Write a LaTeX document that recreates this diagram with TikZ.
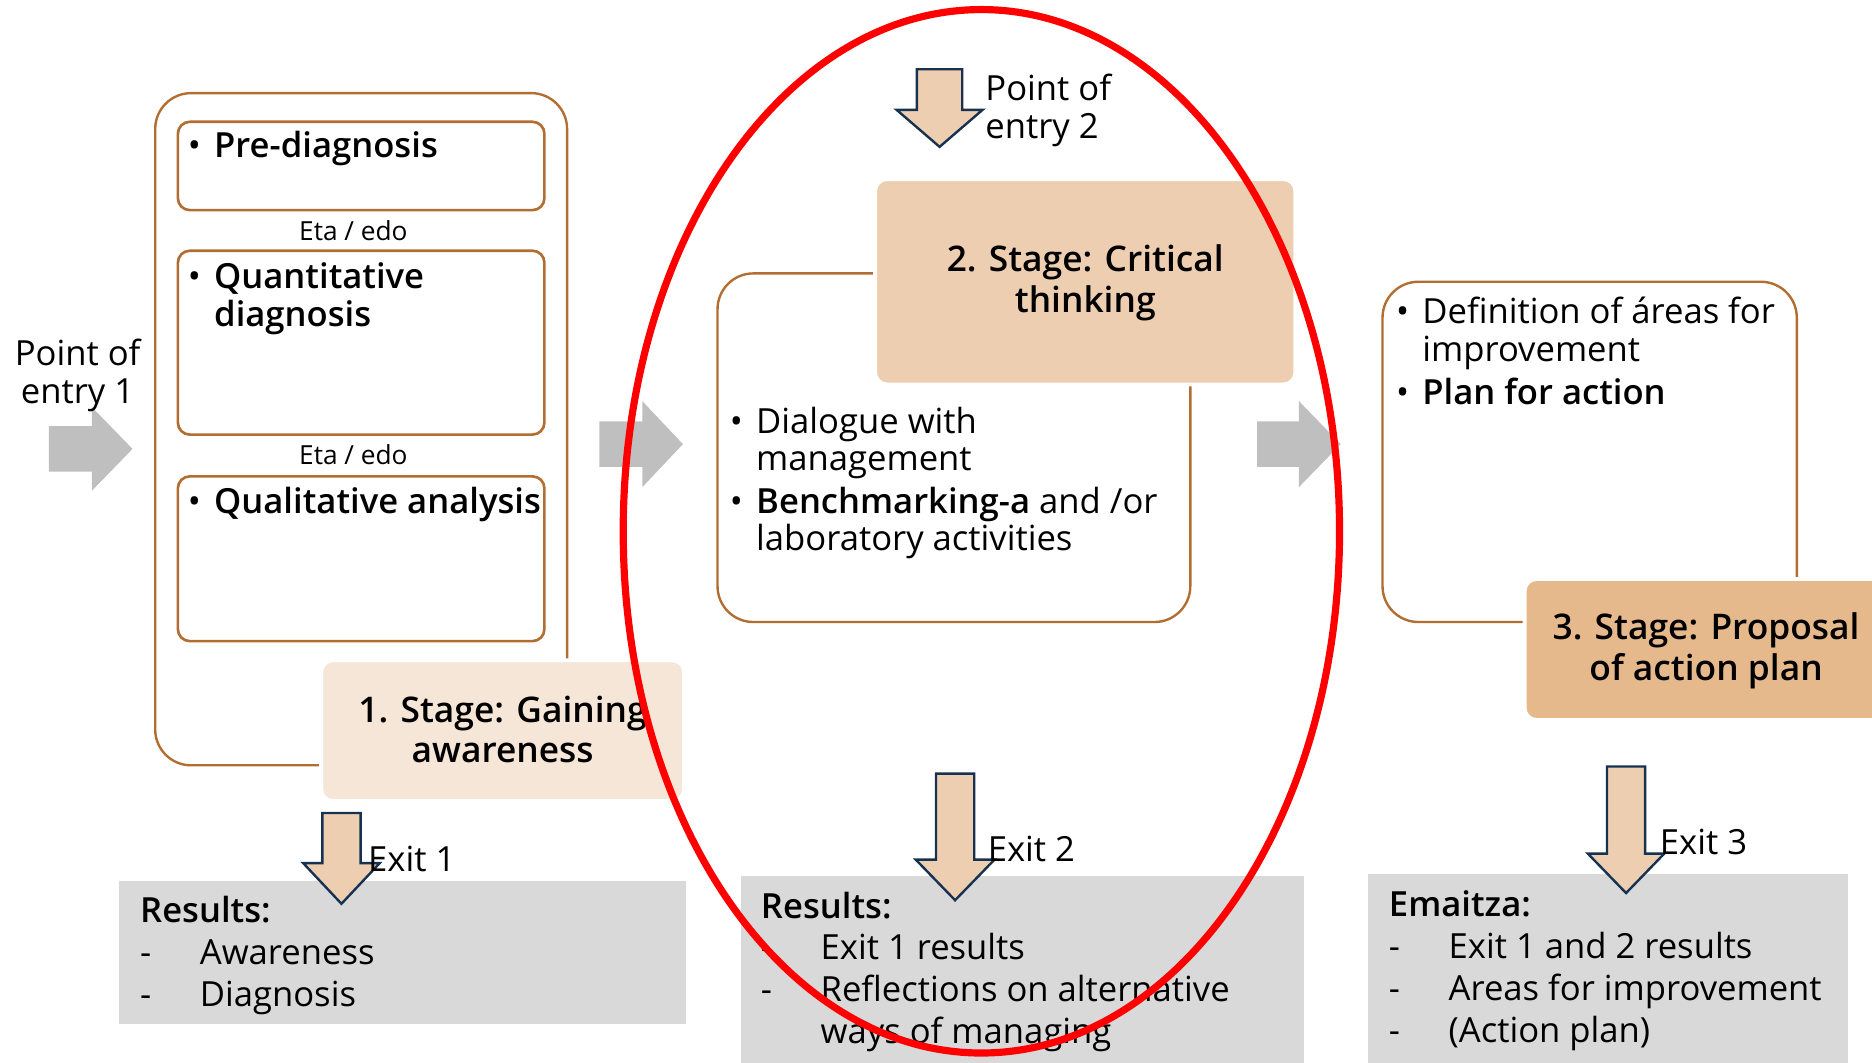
\documentclass[tikz,border=0pt]{standalone}
\usepackage{fontspec}
% prefer the semibold cut of Open Sans for the emphasised words
\IfFontExistsTF{Open Sans SemiBold}{%
  \setmainfont{Open Sans}[BoldFont={Open Sans SemiBold}]}{%
  \IfFontExistsTF{Open Sans Semibold}{%
    \setmainfont{Open Sans}[BoldFont={Open Sans Semibold}]}{%
    \setmainfont{Open Sans}}}
\definecolor{brownline}{RGB}{178,110,48}
\definecolor{stageA}{RGB}{246,230,216}
\definecolor{stageB}{RGB}{238,206,176}
\definecolor{stageC}{RGB}{230,185,140}
\definecolor{arrowfill}{RGB}{237,206,176}
\definecolor{arrowline}{RGB}{22,50,80}
\definecolor{flowgray}{RGB}{191,191,191}
\definecolor{resgray}{RGB}{217,217,217}
% down-pointing block arrow: centre x, top y, head base y, tip y, shaft half width, head half width
\newcommand\downblock[6]{%
  \filldraw[exitarrow] (#1-#5,#2) -- (#1+#5,#2) -- (#1+#5,#3) -- (#1+#6,#3)
    -- (#1,#4) -- (#1-#6,#3) -- (#1-#5,#3) -- cycle;}
% right-pointing block arrow: left x, head base x, tip x, centre y, shaft half height, head half height
\newcommand\rightblock[6]{%
  \fill[flowgray] (#1,#4-#5) -- (#2,#4-#5) -- (#2,#4-#6) -- (#3,#4)
    -- (#2,#4+#6) -- (#2,#4+#5) -- (#1,#4+#5) -- cycle;}
\begin{document}
\begin{tikzpicture}[x=0.5pt,y=-0.5pt,
  outline/.style={draw=brownline, line width=1pt, rounded corners=15pt, fill=white},
  innerbox/.style={draw=brownline, line width=1.1pt, rounded corners=5pt, fill=white},
  stagebox/.style={draw=white, line width=1.6pt, rounded corners=5pt},
  resbox/.style={fill=resgray},
  exitarrow/.style={fill=arrowfill, draw=arrowline, line width=1pt, line join=miter},
  body/.style={font=\fontsize{14.5}{15.75}\selectfont, inner sep=0pt, anchor=base west, align=left},
  small/.style={font=\fontsize{11}{13}\selectfont, inner sep=0pt},
  title/.style={font=\fontsize{14.8}{17}\selectfont\bfseries, inner sep=0pt, align=center},
  result/.style={font=\fontsize{14.5}{17.5}\selectfont, inner sep=0pt, anchor=base west},
  ring/.style={draw=red, line width=3pt}
]
\useasboundingbox (0,0) rectangle (1568,890);
\clip (0,0) rectangle (1568,890);

% flow arrows between the stages
\rightblock{41}{77}{111}{376}{19}{35}
\rightblock{502}{538}{572}{372}{19}{36}
\rightblock{1053}{1088}{1123}{372}{19}{36}

% stage 1
\draw[outline] (130,78) rectangle (475,641);
\draw[innerbox] (149,102) rectangle (456,176);
\draw[innerbox] (149,210) rectangle (456,364);
\draw[innerbox] (149,399) rectangle (456,537);
\filldraw[stagebox, fill=stageA] (269,553) rectangle (573,671);

% stage 2
\draw[outline] (601,229) rectangle (997,521);
\filldraw[stagebox, fill=stageB] (733,150) rectangle (1085,322);

% stage 3
\draw[outline] (1158,236) rectangle (1505,521);
\filldraw[stagebox, fill=stageC] (1277,485) rectangle (1600,603);

% result panels
\fill[resbox] (100,738) rectangle (575,858);
\fill[resbox] (621,734) rectangle (1092,900);
\fill[resbox] (1146,732) rectangle (1548,900);

% entry and exit arrows
\downblock{787}{58}{92}{123}{19}{36}
\downblock{286}{681}{723}{757}{16}{32}
\downblock{800}{648}{720}{754}{16}{33}
\downblock{1362}{642}{715}{748}{16}{32}

% texts (multi-line nodes sit on the baseline of their last line)
\node[body, align=center, anchor=base] (entry1) at (65,338) {Point of\\entry 1};
\node[body] (entry2) at (825,116) {Point of\\entry 2};

\node[body] (pre) at (157,132) {\begin{tabular}[t]{@{}p{11pt}@{}l@{}}•&\textbf{Pre-diagnosis}\end{tabular}};
\node[small] (or1) at (296,193) {Eta / edo};
\node[body] (quant) at (157,242) {\begin{tabular}[t]{@{}p{11pt}@{}l@{}}•&\textbf{Quantitative}\\&\textbf{diagnosis}\end{tabular}};
\node[small] (or2) at (296,381) {Eta / edo};
\node[body] (qual) at (157,430) {\begin{tabular}[t]{@{}p{11pt}@{}l@{}}•&\textbf{Qualitative analysis}\end{tabular}};
\node[title] (s1) at (421,611) {1. Stage: Gaining\\awareness};

\node[title] (s2) at (909,237) {2. Stage: Critical\\thinking};
\node[body] (crit) at (611,363) {\begin{tabular}[t]{@{}p{11pt}@{}l@{}}•&Dialogue with\\&management\\[2pt]•&\textbf{Benchmarking-a} and /or\\&laboratory activities\end{tabular}};

\node[body] (plan) at (1169,271) {\begin{tabular}[t]{@{}p{11pt}@{}l@{}}•&Definition of áreas for\\&improvement\\[2.5pt]•&\textbf{Plan for action}\end{tabular}};
\node[title] (s3) at (1429,545) {3. Stage: Proposal\\of action plan};

\node[result] (ex1) at (308,730) {Exit 1};
\node[result] (ex2) at (827,722) {Exit 2};
\node[result] (ex3) at (1390,716) {Exit 3};

\node[result] (r1) at (117,773) {\begin{tabular}[t]{@{}p{25pt}@{}l@{}}\multicolumn{2}{@{}l@{}}{\textbf{Results:}}\\-&Awareness\\-&Diagnosis\end{tabular}};
\node[result] (r2) at (637,769) {\begin{tabular}[t]{@{}p{25pt}@{}l@{}}\multicolumn{2}{@{}l@{}}{\textbf{Results:}}\\-&Exit 1 results\\-&Reflections on alternative\\&ways of managing\end{tabular}};
\node[result] (r3) at (1163,768) {\begin{tabular}[t]{@{}p{25pt}@{}l@{}}\multicolumn{2}{@{}l@{}}{\textbf{Emaitza:}}\\-&Exit 1 and 2 results\\-&Areas for improvement\\-&(Action plan)\end{tabular}};

% highlight ring round stage 2
\draw[ring] (822,445) ellipse [x radius=300, y radius=437];
\end{tikzpicture}
\end{document}
